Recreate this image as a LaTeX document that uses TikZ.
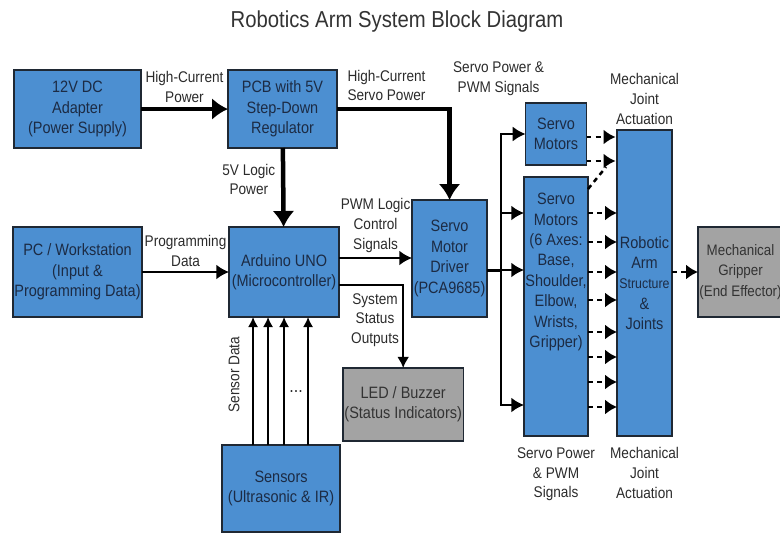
\documentclass[tikz,border=0pt]{standalone}
\usepackage{fontspec}
\setmainfont{Liberation Sans}[FakeStretch=0.88]
\usepackage{xcolor}
\usepackage{tikz}
\usetikzlibrary{arrows.meta, positioning}

\definecolor{boxblue}{HTML}{4C8FD1}
\definecolor{boxgray}{HTML}{A3A3A3}
\definecolor{edge}{HTML}{1F2833}
\definecolor{boxtext}{HTML}{1C2B44}
\definecolor{lbltext}{HTML}{2B2B2B}

\begin{document}
\begin{tikzpicture}[
        every node/.style={font={\fontsize{11}{14}\selectfont}},
        box/.style={draw=edge, line width=1pt, fill=boxblue, text=boxtext, align=center, inner sep=1pt, outer sep=0pt, font={\fontsize{11.7}{14.5}\selectfont}},
        graybox/.style={box, fill=boxgray, text=black!80},
        lbl/.style={text=lbltext, align=center, inner sep=1pt},
        title/.style={text=black!80, font={\fontsize{16.4}{20}\selectfont}},
        power/.style={line width=3.2pt, -{Latex[length=0.4cm,width=0.55cm]}},
        sig/.style={line width=1.8pt, -{Latex[length=0.32cm,width=0.38cm]}},
        thin/.style={line width=1.3pt, -{Latex[length=0.28cm,width=0.3cm]}},
        sens/.style={line width=1.1pt, -{Latex[length=0.25cm,width=0.25cm]}},
        dsh/.style={line width=1.8pt, dash pattern=on 3.5pt off 3pt, -{Latex[length=0.3cm,width=0.38cm]}}
        ]
        \useasboundingbox (0,0) rectangle (19.5,-13.325);
        \node[title] (title) at (9.925,-0.55) {Robotics Arm System Block Diagram};

        % Nodes
        \node[box, minimum width=3.175cm, minimum height=1.95cm] (adapter) at (1.9375,-2.725) {12V DC\\Adapter\\(Power Supply)};
        \node[box, minimum width=2.725cm, minimum height=1.95cm, right=2.175cm of adapter] (pcb) {PCB with 5V\\Step-Down\\Regulator};
        \node[box, minimum width=3.175cm, minimum height=2.25cm, below=1.975cm of adapter] (pc) {PC / Workstation\\(Input \&\\Programming Data)};
        \node[box, minimum width=2.75cm, minimum height=2.25cm, right=2.175cm of pc] (arduino) {Arduino UNO\\(Microcontroller)};
        \node[box, minimum width=1.875cm, minimum height=2.925cm, right=1.825cm of arduino.south east, anchor=south west] (driver) {Servo\\Motor\\Driver\\(PCA9685)};
        \node[graybox, minimum width=2.975cm, minimum height=1.825cm, below right=1.275cm and 0.1cm of arduino.south east] (led) {LED / Buzzer\\(Status Indicators)};
        \node[box, minimum width=2.95cm, minimum height=2.175cm, below=3.2cm of arduino, xshift=-0.075cm] (sensors) {Sensors\\(Ultrasonic \& IR)};
        \node[box, minimum width=1.525cm, minimum height=6.475cm, right=0.925cm of driver.south east, anchor=south west, yshift=-2.975cm] (servoaxes) {Servo\\Motors\\(6 Axes:\\Base,\\Shoulder,\\Elbow,\\Wrists,\\Gripper)\\[1.3cm]};
        \node[box, minimum width=1.525cm, minimum height=1.55cm, above=0.3cm of servoaxes] (servotop) {Servo\\Motors};
        \node[box, minimum width=1.375cm, minimum height=7.65cm, right=0.725cm of servoaxes.south east, anchor=south west] (arm) {Robotic\\Arm\\{\fontsize{10}{12}\selectfont Structure}\\\&\\Joints};
        \node[graybox, minimum width=2.125cm, minimum height=2.25cm, right=0.65cm of arm, yshift=0.275cm, font={\fontsize{10.8}{14.5}\selectfont}] (gripper) {Mechanical\\Gripper\\(End Effector)};

        % Power lines
        \draw[power] (adapter) -- node[lbl, above=2pt] {High-Current\\Power} (pcb);
        \draw[power] (pcb) -- node[lbl, left=3pt, pos=0.4] {5V Logic\\Power} (arduino);
        \draw[power] (pcb.east) -| node[lbl, above=3pt, pos=0.22] {High-Current\\Servo Power} (driver.north);

        % Signals
        \draw[sig] (pc) -- node[lbl, above=2pt] {Programming\\Data} (arduino);
        \coordinate (pwm) at ([yshift=0.35cm]arduino.east);
        \draw[sig] (pwm) -- node[lbl, above=2pt] {PWM Logic\\Control\\Signals} (pwm -| driver.west);
        \coordinate (stat) at ([yshift=-0.325cm]arduino.east);
        \draw[thin] (stat) -| node[lbl, below left=0.15cm and 0.05cm] {System\\Status\\Outputs} (led.north);

        % Sensor data
        \foreach \dx [count=\i] in {0.775,1.15,1.55,2.15}
            \coordinate (s\i) at ([xshift=\dx cm]sensors.north west);
        \draw[sens] (s1) -- node[lbl, rotate=90, anchor=south, pos=0.55, inner sep=9pt] {Sensor Data} (s1 |- arduino.south);
        \foreach \i in {2,3,4}
            \draw[sens] (s\i) -- (s\i |- arduino.south);
        \node[lbl, anchor=base, font={\fontsize{13}{14}\selectfont}] (dots) at ([xshift=1.85cm, yshift=1.325cm]sensors.north west) {...};

        % Driver to servos
        \coordinate (drv) at ([yshift=-0.3cm]driver.east);
        \coordinate (bus) at ([xshift=0.35cm]drv);
        \draw[line width=1.8pt] (drv) -- (bus);
        \draw[sig] (bus) |- (servotop.west);
        \foreach \dy in {2.3375,0.9125,-2.4625}
            \draw[sig] (bus) |- ([yshift=\dy cm]servoaxes.west);
        \node[lbl, above=0.15cm of servotop.north west, xshift=-0.675cm] (pwmtop) {Servo Power \&\\PWM Signals};
        \node[lbl, below=0.25cm of servoaxes] (pwmbot) {Servo Power\\\& PWM\\Signals};

        % Joint actuation
        \draw[dsh] ([yshift=-0.075cm]servotop.east) -- ++(0.725,0);
        \draw[dsh] ([yshift=-0.675cm]servotop.east) -- ++(0.725,0);
        \draw[line width=1.8pt, dash pattern=on 3.5pt off 3pt] ([yshift=-0.3cm]servoaxes.north east) -- ++(0.45,0.55);
        \foreach \dy in {2.3375,1.6125,0.8625,0.1625,-0.6375,-1.2625,-1.8875,-2.5125}
            \draw[dsh] ([yshift=\dy cm]servoaxes.east) -- ++(0.725,0);
        \draw[dsh] (arm.east |- gripper.west) -- (gripper.west);
        \node[lbl, above=0.1cm of arm] (acttop) {Mechanical\\Joint\\Actuation};
        \node[lbl, below=0.25cm of arm] (actbot) {Mechanical\\Joint\\Actuation};
    \end{tikzpicture}
\end{document}
